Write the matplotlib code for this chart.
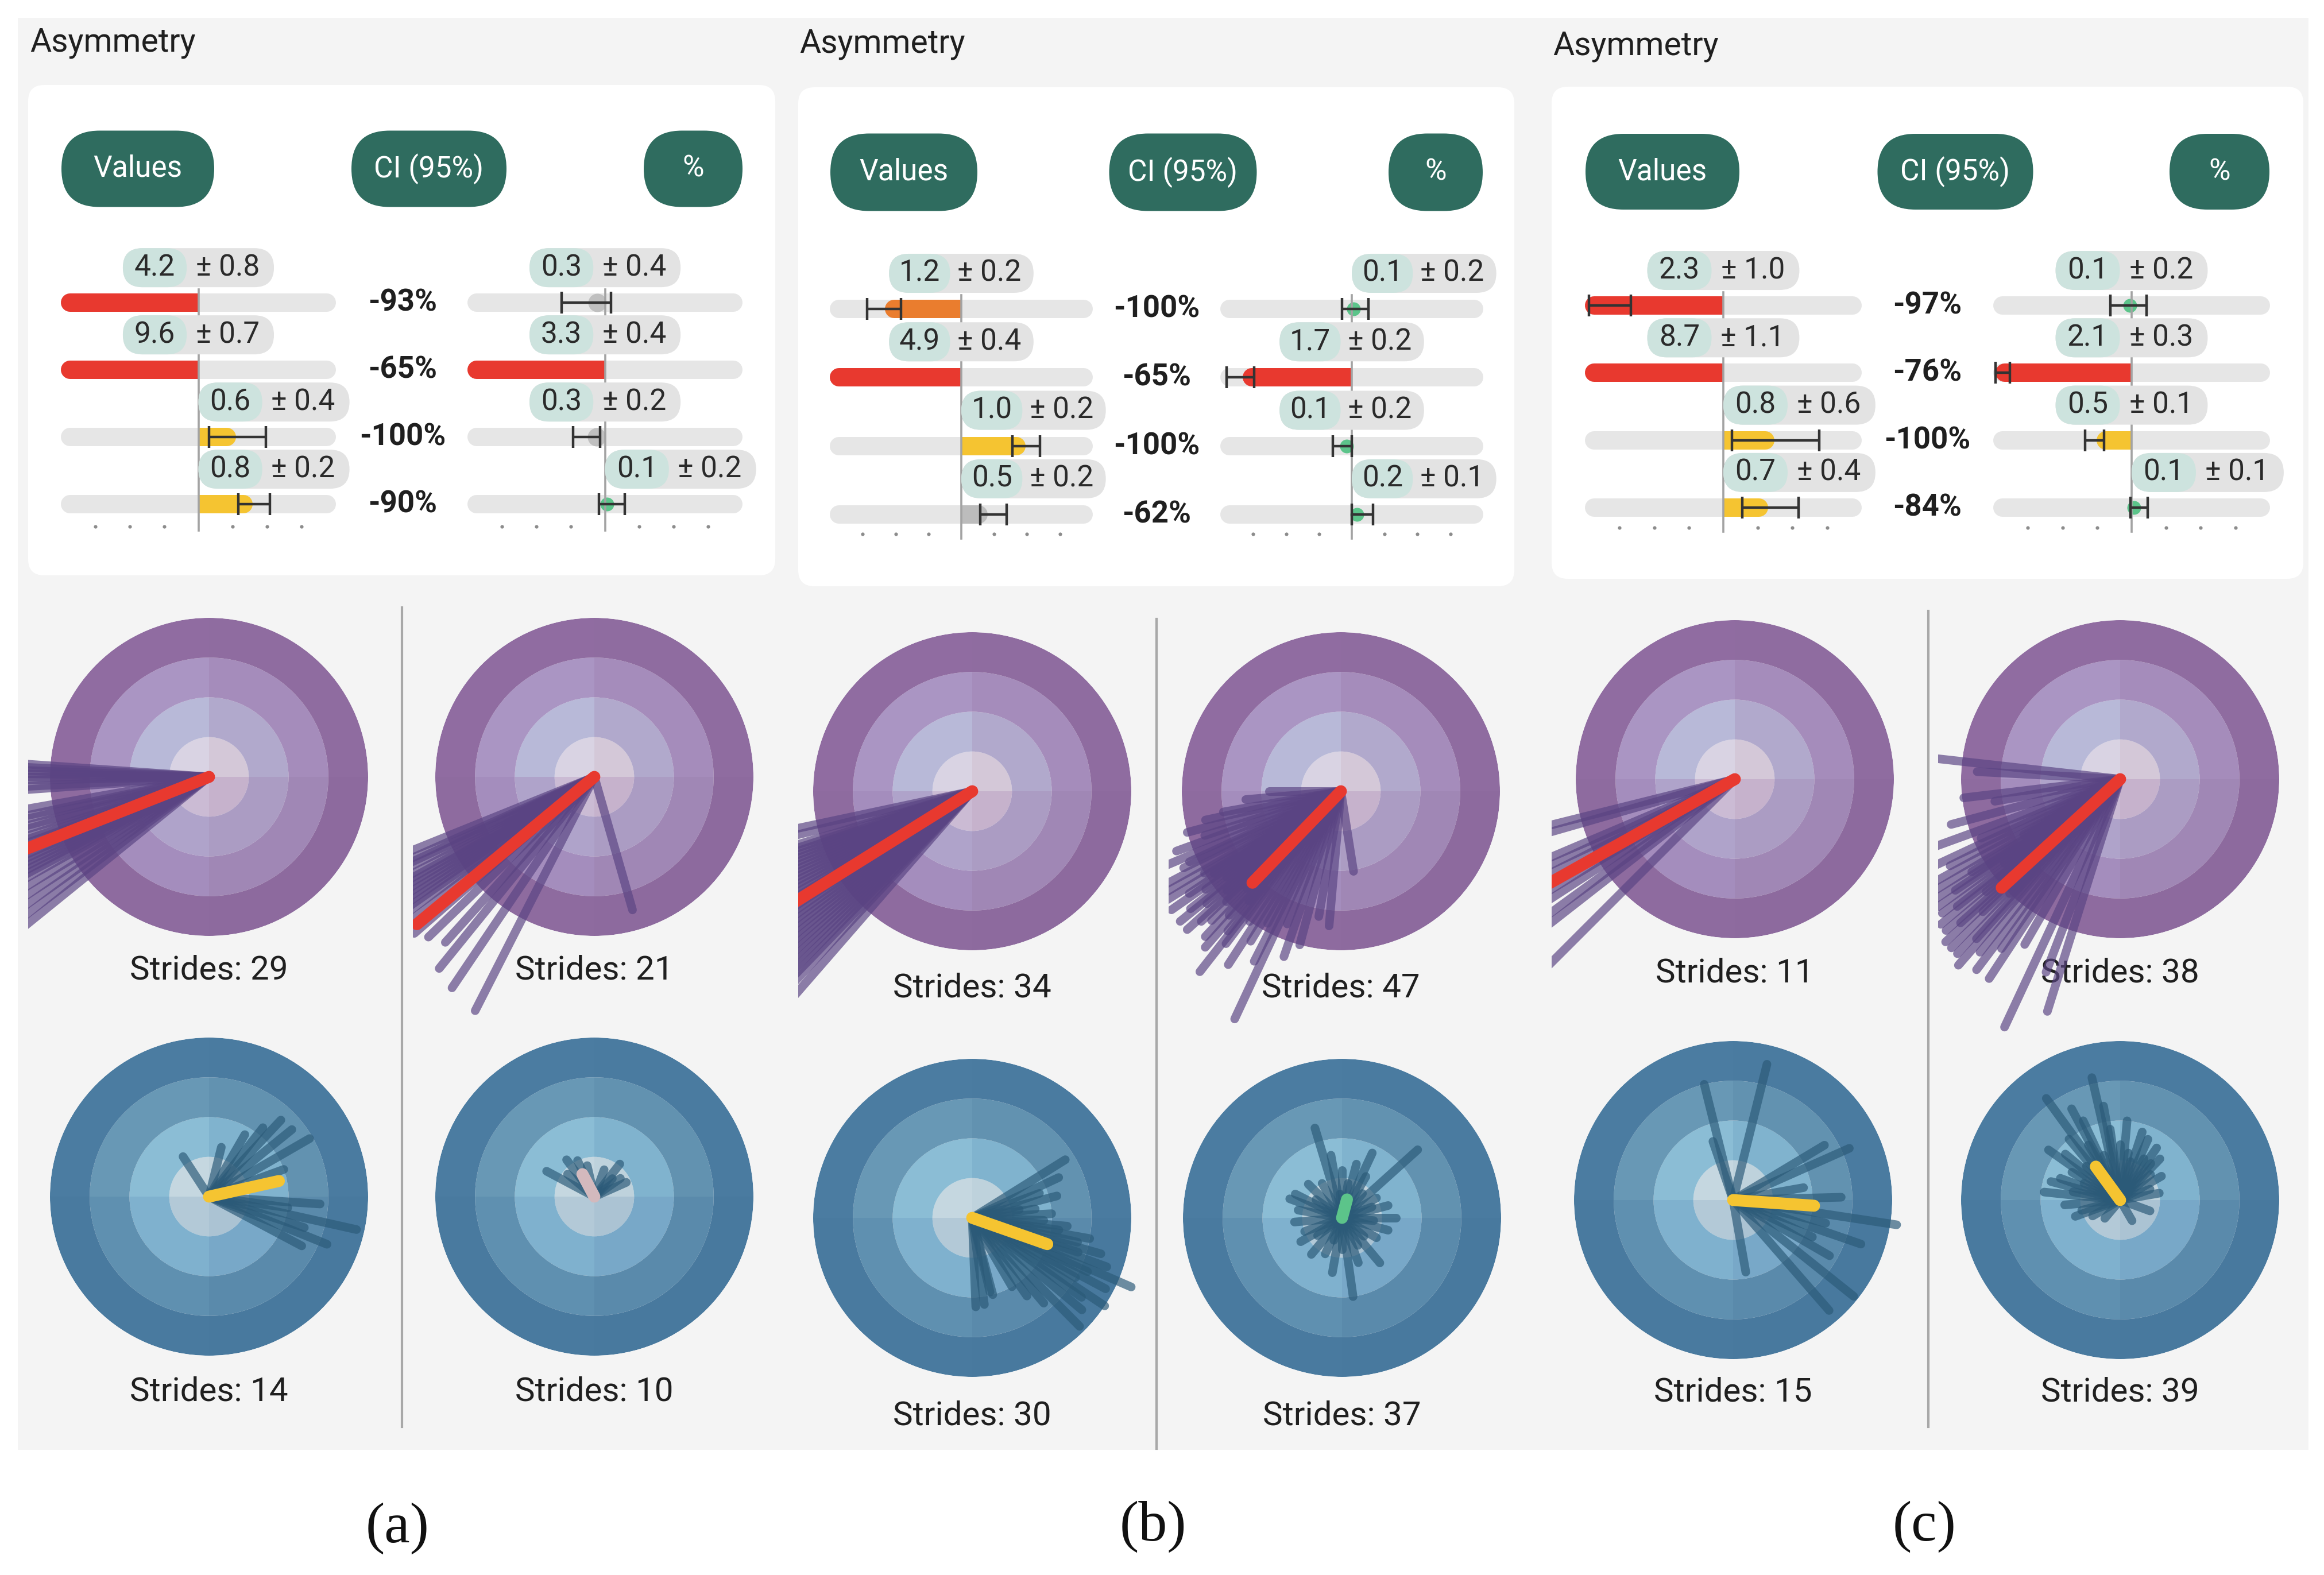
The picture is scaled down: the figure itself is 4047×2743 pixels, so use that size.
import numpy as np
import matplotlib.pyplot as plt
from matplotlib.patches import FancyBboxPatch, Rectangle

plt.rcParams['font.family'] = ['Roboto', 'DejaVu Sans']

W, H, DPI = 4048, 2743, 200
nan = np.nan

# ---------------- data: asymmetry tables (panels a, b, c; four rows each) ----------------
panel_labels = ["(a)", "(b)", "(c)"]
header_labels = ["Values", "CI (95%)", "%"]

pct_labels = [["-93%", "-65%", "-100%", "-90%"],
              ["-100%", "-65%", "-100%", "-62%"],
              ["-97%", "-76%", "-100%", "-84%"]]

val_num = [["4.2", "9.6", "0.6", "0.8"], ["1.2", "4.9", "1.0", "0.5"], ["2.3", "8.7", "0.8", "0.7"]]
val_err = [["± 0.8", "± 0.7", "± 0.4", "± 0.2"], ["± 0.2", "± 0.4", "± 0.2", "± 0.2"],
           ["± 1.0", "± 1.1", "± 0.6", "± 0.4"]]
# bar ends on the track scale (track runs -4 .. 4)
val_bar = [[-4.0, -4.0, 1.09, 1.58], [-2.32, -4.0, 1.96, 0.8], [-4.0, -4.0, 1.48, 1.3]]
val_col = [["red", "red", "yellow", "yellow"], ["orange", "red", "yellow", "grey"],
           ["red", "red", "yellow", "yellow"]]
val_lo = [[nan, nan, 0.31, 1.16], [-2.86, nan, 1.55, 0.58], [-3.88, nan, 0.25, 0.54]]
val_hi = [[nan, nan, 1.96, 2.09], [-1.84, nan, 2.39, 1.38], [-2.68, nan, 2.78, 2.17]]

ci_num = [["0.3", "3.3", "0.3", "0.1"], ["0.1", "1.7", "0.1", "0.2"], ["0.1", "2.1", "0.5", "0.1"]]
ci_err = [["± 0.4", "± 0.4", "± 0.2", "± 0.2"], ["± 0.2", "± 0.2", "± 0.2", "± 0.1"],
          ["± 0.2", "± 0.3", "± 0.1", "± 0.1"]]
ci_bar = [[-0.45, -4.0, -0.5, 0.05], [0.05, -3.33, -0.15, 0.15], [-0.05, -3.93, -1.01, 0.07]]
ci_col = [["grey", "red", "grey", "green"], ["green", "red", "green", "green"],
          ["green", "red", "yellow", "green"]]
ci_lo = [[-1.27, nan, -0.93, -0.18], [-0.29, -3.81, -0.58, 0.0], [-0.62, -3.93, -1.35, -0.04]]
ci_hi = [[0.18, nan, -0.15, 0.57], [0.51, -2.97, 0.0, 0.65], [0.43, -3.52, -0.8, 0.46]]

# ---------------- data: stride vectors (angle deg, length in target radii) ----------------
strides_top = [29, 21, 34, 47, 11, 38]
strides_bot = [14, 10, 30, 37, 15, 39]

top_ang = [
    [176, 177, 178, 179, 180, 181, 183, 184, 190, 192, 193, 195, 196, 198, 199, 200,
     202, 203, 204, 205, 206, 207, 208, 209, 211, 213, 215, 217, 219],
    [202, 204, 205, 206, 208, 209, 210, 211, 212, 213, 214, 215, 216, 218, 221, 224,
     228, 231, 236, 243, 286],
    [192, 194, 197, 198, 199, 200, 201, 202, 203, 204, 205, 206, 207, 208, 209, 210, 211,
     212, 213, 214, 215, 216, 217, 218, 219, 220, 221, 222, 223, 224, 225, 226, 227, 229],
    [180, 185, 190, 192, 195, 198, 200, 203, 205, 206, 208, 210, 211, 212, 213, 214, 215,
     216, 217, 218, 219, 220, 221, 222, 223, 224, 225, 226, 227, 228, 229, 230, 231, 232,
     233, 235, 237, 239, 241, 243, 245, 248, 251, 255, 260, 265, 279],
    [194, 196, 203, 205, 207, 209, 211, 213, 216, 218, 225],
    [173.6, 177, 186.8, 190, 195, 200, 203, 205, 207, 209, 210, 211, 212, 213, 214, 215,
     216, 217, 218, 219, 220, 221, 222, 223, 224, 225, 226, 227, 228, 229, 231, 233, 235,
     236.7, 240, 245, 249, 252.6],
]
top_len = [
    [1.3, 1.35, 1.3, 1.4, 1.3, 1.35, 1.3, 1.4, 1.4, 1.45, 1.4, 1.5, 1.45, 1.5, 1.4, 1.5,
     1.55, 1.5, 1.45, 1.5, 1.55, 1.5, 1.6, 1.5, 1.55, 1.6, 1.55, 1.6, 1.6],
    [1.3, 1.3, 1.35, 1.35, 1.4, 1.35, 1.4, 1.4, 1.45, 1.4, 1.45, 1.5, 1.45, 1.5, 1.5, 1.45,
     1.4, 1.55, 1.6, 1.65, 0.87],
    [1.75, 1.8, 1.75, 1.8, 1.75, 1.8, 1.75, 1.8, 1.75, 1.8, 1.75, 1.8, 1.75, 1.8, 1.75, 1.8,
     1.75, 1.8, 1.75, 1.8, 1.75, 1.8, 1.75, 1.8, 1.75, 1.8, 1.75, 1.8, 1.75, 1.8, 1.8, 1.85,
     1.85, 1.85],
    [0.45, 0.6, 0.75, 0.87, 1.0, 0.9, 1.1, 1.2, 1.05, 1.1, 1.25, 1.3, 1.0, 1.3, 0.95, 1.15,
     1.3, 1.05, 0.9, 1.2, 1.3, 1.1, 0.95, 1.3, 1.2, 1.0, 1.15, 0.85, 1.25, 1.05, 1.3, 0.9,
     1.13, 1.44, 1.2, 1.0, 1.3, 1.1, 0.95, 1.2, 1.58, 0.9, 1.1, 1.0, 0.8, 0.85, 0.51],
    [1.3, 1.3, 1.35, 1.4, 1.4, 1.4, 1.45, 1.45, 1.5, 1.5, 1.7],
    [1.15, 0.9, 0.99, 0.8, 1.1, 1.3, 0.95, 1.3, 1.2, 1.35, 0.7, 1.35, 1.1, 1.4, 1.25, 1.4,
     0.9, 1.4, 1.3, 1.45, 1.1, 1.45, 1.35, 1.5, 1.2, 1.5, 1.0, 1.5, 1.35, 1.55, 1.4, 1.5,
     1.3, 1.5, 1.2, 1.72, 1.3, 1.53],
]
top_mean = [(201.5, 1.35), (219.7, 1.45), (212, 1.7), (226, 0.8), (209.3, 1.35), (222.5, 1.01)]

bot_ang = [
    [46.8, 39, 30, 52, 123, 76, 20, -3.8, -12.6, -18, -28, -8, -22, 60],
    [152, 127, 103, 52, 24, 45, 140, 115, 70, 35],
    [32, 25, 14.5, 20, 8, 3, -5, -10, -13, -15.6, -18, -20, -23.5, -25, -28, -30, -33.6,
     -36, -40, -45.3, -50, -55, -60, -75, -82, -87.7, -76.5, -8, -2, 10],
    [106.8, 42, 278, 310, 153, 0, 216, 90, 120, 135, 60, 75, 30, 15, 345, 330, 290, 260,
     245, 230, 200, 185, 170, 160, 145, 100, 80, 50, 20, 355, 320, 300, 270, 250, 210, 95, 65],
    [76, 104, 109, 24, 31, 1.5, -8.6, -19, -38.6, -49, -80, -30, -14, 10, -25],
    [126, 103, 65.4, 46, 174, 160, 150, 140, 135, 120, 115, 110, 98, 90, 85, 80, 72, 60, 55,
     40, 30, 20, 10, 185, 195, 200, 170, 165, 145, 130, 100, 75, 50, 210, 230, 300, 340,
     155, 118],
]
bot_len = [
    [0.66, 0.67, 0.73, 0.55, 0.30, 0.32, 0.5, 0.70, 0.95, 0.63, 0.66, 0.5, 0.8, 0.45],
    [0.34, 0.29, 0.2, 0.26, 0.22, 0.16, 0.22, 0.25, 0.18, 0.2],
    [0.69, 0.6, 0.55, 0.45, 0.4, 0.5, 0.6, 0.75, 0.68, 0.84, 0.7, 0.9, 1.09, 0.8, 0.95,
     0.75, 1.0, 0.85, 0.9, 0.96, 0.7, 0.6, 0.5, 0.5, 0.55, 0.56, 0.48, 0.55, 0.45, 0.3],
    [0.59, 0.64, 0.5, 0.37, 0.33, 0.34, 0.19, 0.3, 0.25, 0.3, 0.3, 0.35, 0.25, 0.3, 0.3,
     0.25, 0.3, 0.35, 0.25, 0.3, 0.25, 0.3, 0.28, 0.35, 0.2, 0.4, 0.22, 0.2, 0.2, 0.2, 0.18,
     0.2, 0.2, 0.15, 0.3, 0.15, 0.45],
    [0.88, 0.75, 0.39, 0.8, 0.67, 0.68, 1.04, 0.85, 0.97, 0.92, 0.46, 0.7, 0.6, 0.45, 0.55],
    [0.79, 0.79, 0.42, 0.36, 0.48, 0.4, 0.35, 0.45, 0.3, 0.4, 0.55, 0.3, 0.45, 0.35, 0.5,
     0.3, 0.45, 0.3, 0.4, 0.25, 0.3, 0.2, 0.25, 0.35, 0.25, 0.3, 0.3, 0.45, 0.55, 0.5, 0.6,
     0.25, 0.3, 0.2, 0.15, 0.15, 0.2, 0.25, 0.65],
]
bot_mean = [(12.6, 0.45), (118, 0.16), (-19.3, 0.5), (75, 0.12), (-4, 0.51), (126, 0.26)]
bot_mean_col = ["yellow", "pink", "yellow", "green", "yellow", "yellow"]

# ---------------- styling ----------------
COLORS = {"red": "#e8392f", "orange": "#ea7d2e", "yellow": "#f5c431", "grey": "#bcbcbc",
          "green": "#5cc48a", "pink": "#d3b9bd"}
TRACK_COL = "#e6e6e6"
PILL_COL = "#2f6c5f"
PURPLE_RINGS = [["#d4c8d8", "#d9d3e3", "#cbbbd4", "#c6b2cc"],
                ["#b1a9cc", "#b8b9d8", "#afa3ca", "#ab9cc3"],
                ["#a58cbb", "#aa95c3", "#a48dbd", "#a087b5"],
                ["#8f6ca0", "#906ca1", "#8e6b9f", "#8d6a9e"]]
BLUE_RINGS = [["#bed2dc", "#c5d7e0", "#b3c9d7", "#abc3d3"],
              ["#80b3ce", "#8bbdd5", "#7fb1ce", "#78a8c8"],
              ["#6292b0", "#6898b5", "#5f90b0", "#5a8aab"],
              ["#4a7ba0", "#4b7ca1", "#497a9f", "#48799e"]]

# layout (pixels)
card_box = [(49, 148, 1350, 1002), (1390, 152, 2637, 1021), (2702, 151, 4011, 1008)]
title_xy = [(52, 75), (1392, 77), (2704, 80)]
head_y = [294, 300, 299]
head_h = [133, 135, 132]
head_cx = [[240, 747, 1207], [1574, 2060, 2500], [2895, 3405, 3865]]
head_w = [[266, 270, 172], [256, 257, 164], [268, 271, 174]]
zero_l = [345.5, 1674, 3001]
zero_r = [1053.6, 2354, 3712]
unit_px = [59.8, 57.2, 60.2]
row0 = [527, 538, 532]
step = [117, 119.3, 117.3]
dots_row = [3.33, 3.29, 3.3]
pct_x = [701, 2014, 3356]

R = 277
top_c = [(364, 1353), (1035, 1353), (1693, 1378), (2335, 1378), (3021, 1357), (3692, 1357)]
bot_c = [(364, 2084), (1035, 2084), (1693, 2121), (2337, 2121), (3018, 2090), (3692, 2090)]
top_ty = [1690, 1690, 1721, 1721, 1695, 1695]
bot_ty = [2424, 2424, 2466, 2466, 2425, 2425]
clip_x = [(49, 700), (719, 1350), (1390, 2014), (2035, 2637), (2702, 3358), (3375, 4011)]
div_x = [700, 2014, 3358]
div_y = [(1058, 2485), (1078, 2523), (1064, 2485)]
label_xy = [(692, 2662), (2008, 2659), (3351, 2659)]

TRACK_H = 32
LW_TRACK = TRACK_H / DPI * 72

fig = plt.figure(figsize=(W / DPI, H / DPI), dpi=DPI)
fig.patch.set_facecolor("white")

bg = fig.add_axes([0, 0, 1, 1])
bg.set_xlim(0, W)
bg.set_ylim(H, 0)
bg.axis("off")
bg.add_patch(Rectangle((31, 31), 3989, 2494, fc="#f4f4f4", ec="none"))


def pill(ax, x0, y0, w, h, color, m=1.0, z=1):
    ax.add_patch(FancyBboxPatch((x0, y0), w, h,
                                boxstyle=f"round,pad=0,rounding_size={0.999 * h / m / 2}",
                                mutation_aspect=m, fc=color, ec="none", zorder=z))


def draw_column(p, zero, nums, errs, bars, cols, los, his):
    u, st = unit_px[p], step[p]
    left = zero - 4.6 * u
    top = row0[p] - 0.95 * st
    ax = fig.add_axes([left / W, 1 - (top + 4.6 * st) / H, 9.2 * u / W, 4.6 * st / H])
    ax.set_xlim(-4.6, 4.6)
    ax.set_ylim(3.65, -0.95)
    ax.axis("off")
    cap = TRACK_H / 2 / u
    m = u / st
    bh = TRACK_H / st
    for i in range(4):
        ax.plot([-4 + cap, 4 - cap], [i, i], color=TRACK_COL, lw=LW_TRACK,
                solid_capstyle="round", zorder=1)
        v = bars[i]
        c = COLORS[cols[i]]
        s = np.sign(v)
        if abs(v) < 0.3:
            ax.plot([v], [i], "o", ms=LW_TRACK * 0.75, color=c, mec="none", zorder=2)
        elif abs(v) <= 2 * cap:
            ax.plot([v / 2], [i], "o", ms=LW_TRACK, color=c, mec="none", alpha=0.9, zorder=2)
        else:
            ax.barh(i, v - s * cap, left=0, height=bh, color=c, lw=0, zorder=2)
            ax.plot([s * cap, v - s * cap], [i, i], color=c, lw=LW_TRACK,
                    solid_capstyle="round", zorder=2)
        if not np.isnan(los[i]):
            ax.errorbar((los[i] + his[i]) / 2, i, xerr=(his[i] - los[i]) / 2, fmt="none",
                        ecolor="#333333", elinewidth=1.6, capsize=7, capthick=1.6, zorder=5)
        # value label pill
        xl = -2.2 if v < 0 else 0.0
        ph = 68 / st
        yc = i - 0.52
        pill(ax, xl, yc - ph / 2, 4.4, ph, "#e3e3e3", m, z=6)
        pill(ax, xl, yc - ph / 2, 1.86, ph, "#cde3de", m, z=7)
        ax.text(xl + 0.93, yc, nums[i], ha="center", va="center", fontsize=18.5,
                color="#2a2a2a", zorder=8)
        ax.text(xl + 3.05, yc, errs[i], ha="center", va="center", fontsize=18.5,
                color="#2a2a2a", zorder=8)
    ax.plot([0, 0], [-0.2, dots_row[p] + 0.06], color="#a3a3a3", lw=1.3, zorder=3)
    ax.scatter([-3, -2, -1, 1, 2, 3], [dots_row[p]] * 6, s=5, c="#8c8c8c",
               linewidths=0, zorder=3)


for p in range(3):
    x0, y0, x1, y1 = card_box[p]
    bg.add_patch(FancyBboxPatch((x0, y0), x1 - x0, y1 - y0,
                                boxstyle="round,pad=0,rounding_size=28",
                                fc="white", ec="none", zorder=1))
    bg.text(title_xy[p][0], title_xy[p][1], "Asymmetry", ha="left", va="center",
            fontsize=20.5, color="#1f1f1f", zorder=2)
    for k in range(3):
        w = head_w[p][k]
        h = head_h[p]
        pill(bg, head_cx[p][k] - w / 2, head_y[p] - h / 2, w, h, PILL_COL, 1.0, z=2)
        bg.text(head_cx[p][k], head_y[p], header_labels[k], ha="center", va="center",
                fontsize=18.5, color="white", zorder=3)
    for i in range(4):
        bg.text(pct_x[p], row0[p] + i * step[p], pct_labels[p][i], ha="center",
                va="center", fontsize=19, fontweight="bold", color="#1f1f1f", zorder=3)
    draw_column(p, zero_l[p], val_num[p], val_err[p], val_bar[p], val_col[p],
                val_lo[p], val_hi[p])
    draw_column(p, zero_r[p], ci_num[p], ci_err[p], ci_bar[p], ci_col[p],
                ci_lo[p], ci_hi[p])
    bg.plot([div_x[p], div_x[p]], list(div_y[p]), color="#a8a8a8", lw=1.5, zorder=2)
    bg.text(label_xy[p][0], label_xy[p][1], panel_labels[p], ha="center", va="center",
            fontsize=36, family="Liberation Serif", color="#111111")


def draw_target(center, rings, angs, lens, line_col, mean, mean_col, cx_clip, n, ty):
    cx, cy = center
    ax = fig.add_axes([(cx - R) / W, 1 - (cy + R) / H, 2 * R / W, 2 * R / H],
                      projection="polar")
    ax.set_axis_off()
    quad = np.radians([45, 135, 225, 315])
    for k, b in enumerate([0, 0.25, 0.5, 0.75]):
        ax.bar(quad, 0.25, width=np.pi / 2, bottom=b, color=rings[k], linewidth=0, zorder=1)
    clip = Rectangle((cx_clip[0] / W, 0), (cx_clip[1] - cx_clip[0]) / W, 1,
                     transform=fig.transFigure)
    for a, l in zip(angs, lens):
        ln, = ax.plot(np.radians([a, a]), [0, l], color=line_col, lw=5.4, alpha=0.68,
                      solid_capstyle="round", zorder=2)
        ln.set_clip_path(clip)
    ln, = ax.plot(np.radians([mean[0], mean[0]]), [0, mean[1]], color=mean_col, lw=7.5,
                  solid_capstyle="round", zorder=3)
    ln.set_clip_path(clip)
    ax.set_ylim(0, 1)
    bg.text(cx, ty, f"Strides: {n}", ha="center", va="center", fontsize=21,
            color="#1f1f1f", zorder=2)


for j in range(6):
    draw_target(top_c[j], PURPLE_RINGS, top_ang[j], top_len[j], "#5a4483",
                top_mean[j], COLORS["red"], clip_x[j], strides_top[j], top_ty[j])
    draw_target(bot_c[j], BLUE_RINGS, bot_ang[j], bot_len[j], "#2b5a78",
                bot_mean[j], COLORS[bot_mean_col[j]], clip_x[j], strides_bot[j], bot_ty[j])

fig.savefig("out.png", dpi=DPI, facecolor="white")
